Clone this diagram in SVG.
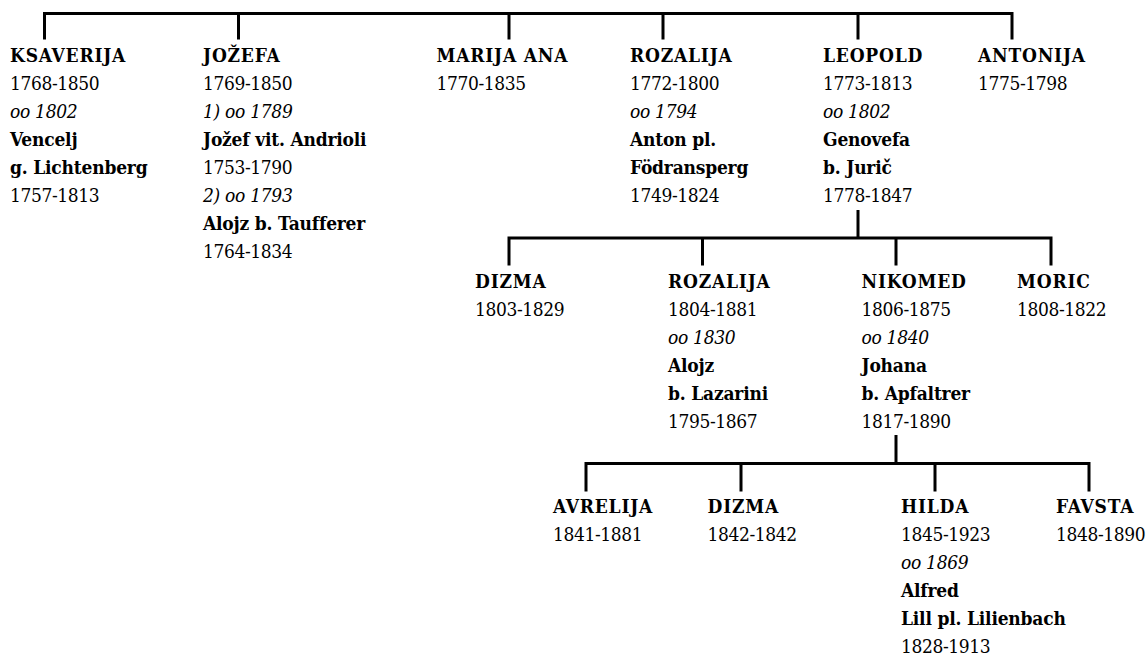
<svg xmlns="http://www.w3.org/2000/svg" width="1148" height="656" viewBox="0 0 1148 656">
  <style>
    text { font-family: 'DejaVu Serif Condensed', 'DejaVu Serif', serif; font-stretch: condensed; font-size: 19px; fill: #000; letter-spacing: -0.4px; }
    .h { font-weight: bold; letter-spacing: 0.8px; }
    .n { font-weight: bold; letter-spacing: -0.2px; }
    .m { font-style: italic; letter-spacing: -0.3px; }
    .link { fill: none; stroke: #000; stroke-width: 3; stroke-linejoin: miter; }
  </style>
  <rect width="1148" height="656" fill="#fff"/>

  <!-- family lines -->
  <g id="connectors">
    <path class="link" d="M44.5,39.5 V13.5 H1012 V39.5"/>
    <path class="link" d="M238.5,13.5 V39.5 M509,13.5 V39.5 M663,13.5 V39.5 M858,13.5 V39.5"/>
    <path class="link" d="M858,210 V238"/>
    <path class="link" d="M509,265.5 V238 H1051 V265.5"/>
    <path class="link" d="M702.5,238 V265.5 M896,238 V265.5"/>
    <path class="link" d="M896,435 V463.5"/>
    <path class="link" d="M586,491.5 V463.5 H1089 V491.5"/>
    <path class="link" d="M741,463.5 V491.5 M935,463.5 V491.5"/>
  </g>

  <!-- first generation -->
  <g id="ksaverija">
    <text x="10" y="62" class="h">KSAVERIJA</text>
    <text x="10" y="90">1768-1850</text>
    <text x="10" y="118" class="m">oo 1802</text>
    <text x="10" y="146" class="n">Vencelj</text>
    <text x="10" y="174" class="n">g. Lichtenberg</text>
    <text x="10" y="202">1757-1813</text>
  </g>
  <g id="jozefa">
    <text x="203" y="62" class="h">JOŽEFA</text>
    <text x="203" y="90">1769-1850</text>
    <text x="203" y="118" class="m">1) oo 1789</text>
    <text x="203" y="146" class="n">Jožef vit. Andrioli</text>
    <text x="203" y="174">1753-1790</text>
    <text x="203" y="202" class="m">2) oo 1793</text>
    <text x="203" y="230" class="n">Alojz b. Taufferer</text>
    <text x="203" y="258">1764-1834</text>
  </g>
  <g id="marija-ana">
    <text x="436.5" y="62" class="h">MARIJA ANA</text>
    <text x="436.5" y="90">1770-1835</text>
  </g>
  <g id="rozalija-1">
    <text x="630" y="62" class="h">ROZALIJA</text>
    <text x="630" y="90">1772-1800</text>
    <text x="630" y="118" class="m">oo 1794</text>
    <text x="630" y="146" class="n">Anton pl.</text>
    <text x="630" y="174" class="n">Födransperg</text>
    <text x="630" y="202">1749-1824</text>
  </g>
  <g id="leopold">
    <text x="823" y="62" class="h">LEOPOLD</text>
    <text x="823" y="90">1773-1813</text>
    <text x="823" y="118" class="m">oo 1802</text>
    <text x="823" y="146" class="n">Genovefa</text>
    <text x="823" y="174" class="n">b. Jurič</text>
    <text x="823" y="202">1778-1847</text>
  </g>
  <g id="antonija">
    <text x="978" y="62" class="h">ANTONIJA</text>
    <text x="978" y="90">1775-1798</text>
  </g>

  <!-- second generation -->
  <g id="dizma-1">
    <text x="475" y="288" class="h">DIZMA</text>
    <text x="475" y="316">1803-1829</text>
  </g>
  <g id="rozalija-2">
    <text x="668" y="288" class="h">ROZALIJA</text>
    <text x="668" y="316">1804-1881</text>
    <text x="668" y="344" class="m">oo 1830</text>
    <text x="668" y="372" class="n">Alojz</text>
    <text x="668" y="400" class="n">b. Lazarini</text>
    <text x="668" y="428">1795-1867</text>
  </g>
  <g id="nikomed">
    <text x="861.5" y="288" class="h">NIKOMED</text>
    <text x="861.5" y="316">1806-1875</text>
    <text x="861.5" y="344" class="m">oo 1840</text>
    <text x="861.5" y="372" class="n">Johana</text>
    <text x="861.5" y="400" class="n">b. Apfaltrer</text>
    <text x="861.5" y="428">1817-1890</text>
  </g>
  <g id="moric">
    <text x="1017" y="288" class="h">MORIC</text>
    <text x="1017" y="316">1808-1822</text>
  </g>

  <!-- third generation -->
  <g id="avrelija">
    <text x="553" y="513" class="h">AVRELIJA</text>
    <text x="553" y="541">1841-1881</text>
  </g>
  <g id="dizma-2">
    <text x="707.5" y="513" class="h">DIZMA</text>
    <text x="707.5" y="541">1842-1842</text>
  </g>
  <g id="hilda">
    <text x="901" y="513" class="h">HILDA</text>
    <text x="901" y="541">1845-1923</text>
    <text x="901" y="569" class="m">oo 1869</text>
    <text x="901" y="597" class="n">Alfred</text>
    <text x="901" y="625" class="n">Lill pl. Lilienbach</text>
    <text x="901" y="653">1828-1913</text>
  </g>
  <g id="favsta">
    <text x="1056" y="513" class="h">FAVSTA</text>
    <text x="1056" y="541">1848-1890</text>
  </g>
</svg>
